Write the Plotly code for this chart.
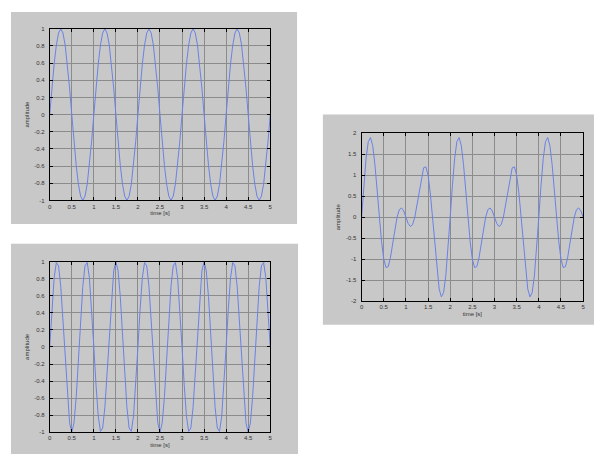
import plotly.graph_objects as go

# sample times (s)
time_s = [0.0, 0.05, 0.1, 0.15, 0.2, 0.25, 0.3, 0.35, 0.4, 0.45, 0.5, 0.55, 0.6, 0.65, 0.7, 0.75, 0.8, 0.85, 0.9, 0.95,
          1.0, 1.05, 1.1, 1.15, 1.2, 1.25, 1.3, 1.35, 1.4, 1.45, 1.5, 1.55, 1.6, 1.65, 1.7, 1.75, 1.8, 1.85, 1.9, 1.95,
          2.0, 2.05, 2.1, 2.15, 2.2, 2.25, 2.3, 2.35, 2.4, 2.45, 2.5, 2.55, 2.6, 2.65, 2.7, 2.75, 2.8, 2.85, 2.9, 2.95,
          3.0, 3.05, 3.1, 3.15, 3.2, 3.25, 3.3, 3.35, 3.4, 3.45, 3.5, 3.55, 3.6, 3.65, 3.7, 3.75, 3.8, 3.85, 3.9, 3.95,
          4.0, 4.05, 4.1, 4.15, 4.2, 4.25, 4.3, 4.35, 4.4, 4.45, 4.5, 4.55, 4.6, 4.65, 4.7, 4.75, 4.8, 4.85, 4.9, 4.95,
          5.0]

# top-left signal (~1 Hz)
signal_1 = [0, 0.31, 0.59, 0.81, 0.95, 1, 0.95, 0.81, 0.59, 0.31, 0, -0.31, -0.59, -0.81, -0.95, -1, -0.95, -0.81, -0.59, -0.31,
            0, 0.31, 0.59, 0.81, 0.95, 1, 0.95, 0.81, 0.59, 0.31, 0, -0.31, -0.59, -0.81, -0.95, -1, -0.95, -0.81, -0.59, -0.31,
            0, 0.31, 0.59, 0.81, 0.95, 1, 0.95, 0.81, 0.59, 0.31, 0, -0.31, -0.59, -0.81, -0.95, -1, -0.95, -0.81, -0.59, -0.31,
            0, 0.31, 0.59, 0.81, 0.95, 1, 0.95, 0.81, 0.59, 0.31, 0, -0.31, -0.59, -0.81, -0.95, -1, -0.95, -0.81, -0.59, -0.31,
            0, 0.31, 0.59, 0.81, 0.95, 1, 0.95, 0.81, 0.59, 0.31, 0, -0.31, -0.59, -0.81, -0.95, -1, -0.95, -0.81, -0.59, -0.31,
            0]

# bottom-left signal (~1.5 Hz)
signal_2 = [0, 0.45, 0.81, 0.99, 0.95, 0.71, 0.31, -0.16, -0.59, -0.89, -1, -0.89, -0.59, -0.16, 0.31, 0.71, 0.95, 0.99, 0.81, 0.45,
            0, -0.45, -0.81, -0.99, -0.95, -0.71, -0.31, 0.16, 0.59, 0.89, 1, 0.89, 0.59, 0.16, -0.31, -0.71, -0.95, -0.99, -0.81, -0.45,
            0, 0.45, 0.81, 0.99, 0.95, 0.71, 0.31, -0.16, -0.59, -0.89, -1, -0.89, -0.59, -0.16, 0.31, 0.71, 0.95, 0.99, 0.81, 0.45,
            0, -0.45, -0.81, -0.99, -0.95, -0.71, -0.31, 0.16, 0.59, 0.89, 1, 0.89, 0.59, 0.16, -0.31, -0.71, -0.95, -0.99, -0.81, -0.45,
            0, 0.45, 0.81, 0.99, 0.95, 0.71, 0.31, -0.16, -0.59, -0.89, -1, -0.89, -0.59, -0.16, 0.31, 0.71, 0.95, 0.99, 0.81, 0.45,
            0]

# right signal (combined)
signal_sum = [0, 0.76, 1.40, 1.80, 1.90, 1.71, 1.26, 0.65, 0, -0.58, -1, -1.20, -1.18, -0.97, -0.64, -0.29, 0, 0.18, 0.22, 0.15,
              0, -0.15, -0.22, -0.18, 0, 0.29, 0.64, 0.97, 1.18, 1.20, 1, 0.58, 0, -0.65, -1.26, -1.71, -1.90, -1.80, -1.40, -0.76,
              0, 0.76, 1.40, 1.80, 1.90, 1.71, 1.26, 0.65, 0, -0.58, -1, -1.20, -1.18, -0.97, -0.64, -0.29, 0, 0.18, 0.22, 0.15,
              0, -0.15, -0.22, -0.18, 0, 0.29, 0.64, 0.97, 1.18, 1.20, 1, 0.58, 0, -0.65, -1.26, -1.71, -1.90, -1.80, -1.40, -0.76,
              0, 0.76, 1.40, 1.80, 1.90, 1.71, 1.26, 0.65, 0, -0.58, -1, -1.20, -1.18, -0.97, -0.64, -0.29, 0, 0.18, 0.22, 0.15,
              0]

x_ticks = [0, 0.5, 1, 1.5, 2, 2.5, 3, 3.5, 4, 4.5, 5]
x_tick_labels = ["0", "0.5", "1", "1.5", "2", "2.5", "3", "3.5", "4", "4.5", "5"]
y_ticks_small = [-1, -0.8, -0.6, -0.4, -0.2, 0, 0.2, 0.4, 0.6, 0.8, 1]
y_tick_labels_small = ["-1", "-0.8", "-0.6", "-0.4", "-0.2", "0", "0.2", "0.4", "0.6", "0.8", "1"]
y_ticks_big = [-2, -1.5, -1, -0.5, 0, 0.5, 1, 1.5, 2]
y_tick_labels_big = ["-2", "-1.5", "-1", "-0.5", "0", "0.5", "1", "1.5", "2"]

# page has an 8px body margin, so the figure is drawn in the remaining area
OFF = 8
W, H = 602 - OFF, 457 - OFF
LINE = "#6a82e6"
GRAY = "rgb(200,200,200)"
GRID = "rgb(140,140,140)"
FONT = dict(family="Liberation Sans, Arial, sans-serif", size=6, color="#333333")


def fx(px):
    return (px - OFF) / W


def fy(py):
    return 1 - (py - OFF) / H


fig = go.Figure()

panels = [
    ("", signal_1, (48, 270, 26, 200), y_ticks_small, y_tick_labels_small, [-1, 1]),
    ("2", signal_2, (48, 270, 262, 435), y_ticks_small, y_tick_labels_small, [-1, 1]),
    ("3", signal_sum, (362, 585, 132, 302), y_ticks_big, y_tick_labels_big, [-2, 2]),
]

boxes = [(9, 297, 9, 224), (9, 298, 244, 457), (323, 602, 113, 326)]
for (x0, x1, y0, y1) in boxes:
    fig.add_shape(type="rect", xref="paper", yref="paper",
                  x0=fx(x0), x1=fx(x1), y0=fy(y1), y1=fy(y0),
                  fillcolor=GRAY, line=dict(width=0), layer="below")

for sid, sig, (px0, px1, py0, py1), yt, yl, yr in panels:
    fig.add_trace(go.Scatter(x=time_s, y=sig, mode="lines",
                             line=dict(color=LINE, width=1),
                             xaxis="x" + sid, yaxis="y" + sid, showlegend=False))
    axx = dict(domain=[fx(px0), fx(px1)], range=[0, 5], tickvals=x_ticks, ticktext=x_tick_labels,
               showgrid=True, gridcolor=GRID, gridwidth=1, zeroline=False,
               showline=True, linecolor="black", linewidth=1, mirror="ticks",
               ticks="inside", ticklen=3, tickcolor="black", tickfont=FONT,
               title=dict(text="time [s]", font=FONT, standoff=2),
               anchor="y" + sid, fixedrange=True)
    axy = dict(domain=[fy(py1), fy(py0)], range=yr, tickvals=yt, ticktext=yl,
               showgrid=True, gridcolor=GRID, gridwidth=1, zeroline=False,
               showline=True, linecolor="black", linewidth=1, mirror="ticks",
               ticks="inside", ticklen=3, tickcolor="black", tickfont=FONT,
               ticklabelstandoff=3,
               title=dict(text="amplitude", font=FONT, standoff=4),
               anchor="x" + sid, fixedrange=True)
    fig.update_layout(**{"xaxis" + sid: axx, "yaxis" + sid: axy})

fig.update_layout(width=W, height=H, margin=dict(l=0, r=0, t=0, b=0),
                  paper_bgcolor="white", plot_bgcolor="white", showlegend=False)

fig.write_html("out.html")
